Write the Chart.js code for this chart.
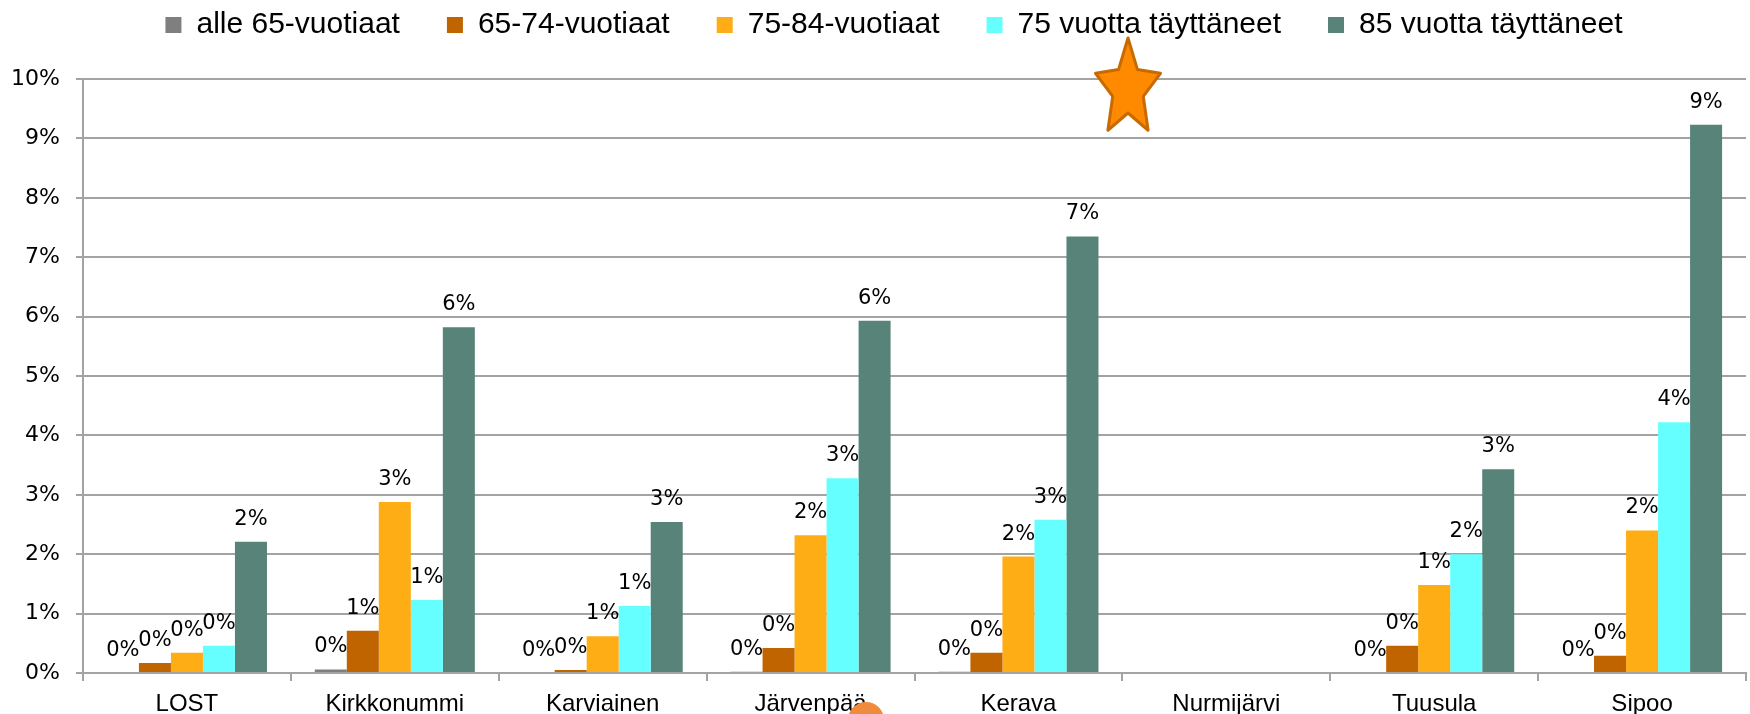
<!DOCTYPE html>
<html>
<head>
<meta charset="utf-8">
<script src="https://cdn.jsdelivr.net/npm/chart.js@4/dist/chart.umd.min.js"></script>
<style>
  html, body { margin: 0; padding: 0; background: #fff; overflow: hidden; }
  #wrap { position: relative; width: 1750px; height: 740px; }
</style>
</head>
<body>
<div id="wrap"><canvas id="c"></canvas></div>
<script>
// Municipalities on the x axis
const categories = ['LOST', 'Kirkkonummi', 'Karviainen', 'Järvenpää', 'Kerava', 'Nurmijärvi', 'Tuusula', 'Sipoo'];

// Shares by age group, in percent (Nurmijärvi has no figures)
const alle65   = [0.00, 0.06, 0.00, 0.02, 0.02, null, 0.00, 0.00];
const v65_74   = [0.17, 0.71, 0.05, 0.42, 0.34, null, 0.46, 0.29];
const v75_84   = [0.34, 2.88, 0.62, 2.32, 1.96, null, 1.48, 2.40];
const yli75    = [0.46, 1.23, 1.13, 3.28, 2.58, null, 2.00, 4.22];
const yli85    = [2.21, 5.82, 2.54, 5.93, 7.35, null, 3.43, 9.23];

const seriesNames = ['alle 65-vuotiaat', '65-74-vuotiaat', '75-84-vuotiaat', '75 vuotta täyttäneet', '85 vuotta täyttäneet'];
const seriesColors = ['#7F7F7F', '#C06400', '#FFAD14', '#66FFFF', '#578379'];

// y axis: 0 % ... 10 %, step 1
const yMin = 0, yMax = 10, yStep = 1;

const GRID = '#A3A3A3';
const LABEL_FONT = "'DejaVu Sans', 'Liberation Sans', sans-serif";
const TEXT_FONT = "'Liberation Sans', Arial, sans-serif";

// Value labels above each bar, rounded to whole percent
const valueLabels = {
  id: 'valueLabels',
  afterDatasetsDraw(chart) {
    const ctx = chart.ctx;
    ctx.save();
    ctx.font = '21px ' + LABEL_FONT;
    ctx.fillStyle = '#000';
    ctx.textAlign = 'center';
    ctx.textBaseline = 'alphabetic';
    chart.data.datasets.forEach((ds, di) => {
      const meta = chart.getDatasetMeta(di);
      meta.data.forEach((bar, i) => {
        const v = ds.data[i];
        if (v === null || v === undefined) return;
        ctx.fillText(Math.round(v) + '%', bar.x, bar.y - 17);
      });
    });
    ctx.restore();
  }
};

// Decorative star and circle on top of the chart
function starPath(ctx, cx, cy, R, r, sx) {
  ctx.beginPath();
  for (let k = 0; k < 10; k++) {
    const rad = k % 2 === 0 ? R : r;
    const a = -Math.PI / 2 + k * Math.PI / 5;
    const x = cx + Math.cos(a) * rad * sx;
    const y = cy + Math.sin(a) * rad;
    if (k === 0) ctx.moveTo(x, y); else ctx.lineTo(x, y);
  }
  ctx.closePath();
}
const decorations = {
  id: 'decorations',
  afterDraw(chart) {
    const ctx = chart.ctx;
    ctx.save();
    starPath(ctx, 1128, 89, 51, 24, 0.67);
    ctx.fillStyle = '#FF8A00';
    ctx.fill();
    ctx.lineWidth = 3;
    ctx.lineJoin = 'round';
    ctx.strokeStyle = '#C96A00';
    ctx.stroke();
    ctx.beginPath();
    ctx.arc(866, 720, 18, 0, Math.PI * 2);
    ctx.fillStyle = '#F08A3C';
    ctx.fill();
    ctx.restore();
  }
};

// Legend row sits higher and a little to the right; plot starts below it
const LEGEND_H = 79, LEGEND_DX = 21, LEGEND_DY = -37;
const legendPlacement = {
  id: 'legendPlacement',
  beforeLayout(chart) {
    const lg = chart.legend;
    if (lg && !lg._placed) {
      const fit = lg.fit;
      lg.fit = function () { fit.call(this); this.height = LEGEND_H; };
      const draw = lg.draw;
      lg.draw = function () {
        const ctx = this.ctx;
        ctx.save();
        ctx.translate(LEGEND_DX, LEGEND_DY);
        draw.apply(this, arguments);
        ctx.restore();
      };
      lg._placed = true;
    }
  }
};

const datasets = [alle65, v65_74, v75_84, yli75, yli85].map((d, i) => ({
  label: seriesNames[i],
  data: d,
  backgroundColor: seriesColors[i],
  borderWidth: 0,
  categoryPercentage: 0.77,
  barPercentage: 1.0
}));

new Chart(document.getElementById('c'), {
  type: 'bar',
  data: { labels: categories, datasets },
  plugins: [legendPlacement, valueLabels, decorations],
  options: {
    responsive: true,
    maintainAspectRatio: false,
    devicePixelRatio: 1,
    animation: false,
    layout: { padding: { left: 0, right: 4, top: 0, bottom: 0 } },
    plugins: {
      legend: {
        position: 'top',
        labels: {
          boxWidth: 16,
          boxHeight: 16,
          padding: 47,
          color: '#000',
          font: { family: TEXT_FONT, size: 30 }
        }
      },
      tooltip: { enabled: false }
    },
    scales: {
      x: {
        grid: {
          display: true,
          drawOnChartArea: false,
          drawTicks: true,
          tickLength: 8,
          color: GRID,
          lineWidth: 2,
          offset: true
        },
        border: { display: true, color: GRID, width: 2 },
        ticks: {
          color: '#000',
          padding: 9,
          maxRotation: 0,
          autoSkip: false,
          font: { family: TEXT_FONT, size: 24 }
        },
        afterFit(scale) { scale.height = 740 - 673; }
      },
      y: {
        min: yMin,
        max: yMax,
        grid: {
          color: GRID,
          lineWidth: 2,
          tickLength: 7,
          drawTicks: true
        },
        border: { display: true, color: GRID, width: 2 },
        ticks: {
          stepSize: yStep,
          color: '#000',
          padding: 16,
          font: { family: LABEL_FONT, size: 22 },
          callback: v => v + '%'
        },
        afterFit(scale) { scale.width = 83; }
      }
    }
  }
});
</script>
</body>
</html>
